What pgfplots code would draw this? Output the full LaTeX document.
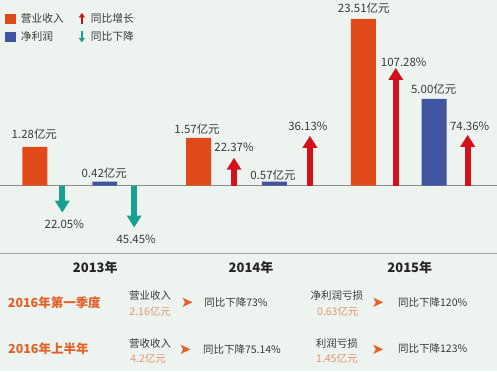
\documentclass[border=0pt]{standalone}
\usepackage{fontspec}
\setmainfont{Noto Sans CJK SC}
\newfontfamily\dejavu{DejaVu Sans}
\usepackage{pgfplots}
\pgfplotsset{compat=1.18}
\usetikzlibrary{arrows.meta}
\definecolor{bgc}{HTML}{EDF3EE}
\definecolor{revc}{HTML}{E04A1A}
\definecolor{profc}{HTML}{3F55A0}
\definecolor{upc}{HTML}{D4101C}
\definecolor{downc}{HTML}{18A090}
\definecolor{linec}{HTML}{8A8E8C}
\definecolor{textc}{HTML}{3A3A3A}
\definecolor{orc}{HTML}{E3602A}
\definecolor{lorc}{HTML}{E3966E}
\begin{document}
\begin{tikzpicture}
\fill[bgc] (0,0) rectangle (497pt,372pt);
\begin{axis}[
  scale only axis, width=497pt, height=372pt,
  xmin=0, xmax=497, ymin=-186, ymax=186,
  hide axis, clip=false,
  legend cell align=left,
  legend style={at={(axis cs:4,175)}, anchor=north west, draw=none, fill=none,
    font=\fontsize{10.75}{12}\selectfont, text=textc, inner sep=0pt,
    row sep=4pt,
    /tikz/every odd column/.append style={column sep=4pt},
    /tikz/every even column/.append style={column sep=13pt}},
  legend columns=2,
]
% legend
\addlegendimage{legend image code/.code={\fill[revc] (0pt,-4.5pt) rectangle (10pt,4.5pt);}}
\addlegendentry{营业收入}
\addlegendimage{legend image code/.code={\draw[upc, line width=2.4pt, -{Triangle[width=6pt,length=4.5pt]}] (3pt,-5.5pt) -- (3pt,5.5pt);}}
\addlegendentry{同比增长}
\addlegendimage{legend image code/.code={\fill[profc] (0pt,-4.5pt) rectangle (10pt,4.5pt);}}
\addlegendentry{净利润}
\addlegendimage{legend image code/.code={\draw[downc, line width=2.4pt, -{Triangle[width=6pt,length=4.5pt]}] (3pt,5.5pt) -- (3pt,-5.5pt);}}
\addlegendentry{同比下降}

% lines
\draw[linec, line width=0.8pt] (axis cs:0,0) -- (axis cs:497,0);
\draw[linec!80, line width=0.8pt] (axis cs:0,-68) -- (axis cs:497,-68);

% bars (visual heights)
\addplot[forget plot, ybar, bar width=25, bar shift=0pt, fill=revc, draw=none]
  coordinates {(34.5,39) (198.5,48) (363.5,167)};
\addplot[forget plot, ybar, bar width=25, bar shift=0pt, fill=profc, draw=none]
  coordinates {(104.5,4) (274.5,4) (434.5,87)};

% arrows
\addplot[forget plot, draw=upc, line width=6pt, -{Triangle[width=14pt,length=12pt]},
  quiver={u=0,v=\thisrow{v}}] table[x=x,y=y] {
x y v
234 0 28
310 0 50
396 0 118
468 0 51
};
\addplot[forget plot, draw=downc, line width=6pt, -{Triangle[width=14pt,length=12pt]},
  quiver={u=0,v=\thisrow{v}}] table[x=x,y=y] {
x y v
62 0 -27
134 0 -42
};

% value labels
\begin{scope}[every node/.style={font=\fontsize{11.5}{12}\selectfont, text=textc, inner sep=0pt}]
\node at (axis cs:34,52) {1.28亿元};
\node at (axis cs:64,-39) {22.05\%};
\node at (axis cs:104,13) {0.42亿元};
\node at (axis cs:136,-54) {45.45\%};
\node at (axis cs:197,57) {1.57亿元};
\node at (axis cs:234,38) {22.37\%};
\node at (axis cs:273,11) {0.57亿元};
\node at (axis cs:308,60) {36.13\%};
\node at (axis cs:364,178) {23.51亿元};
\node at (axis cs:404,124) {107.28\%};
\node at (axis cs:434,97) {5.00亿元};
\node at (axis cs:470,60) {74.36\%};
\end{scope}

% years
\begin{scope}[every node/.style={font=\fontsize{13}{14}\bfseries\selectfont, text=black!85, inner sep=0pt}]
\node at (axis cs:95,-82) {2013年};
\node at (axis cs:251,-82) {2014年};
\node at (axis cs:410,-82) {2015年};
\end{scope}

% bottom table
\begin{scope}[every node/.style={inner sep=0pt}]
\node[font=\fontsize{12.5}{14}\bfseries\selectfont, text=orc] at (axis cs:54,-117) {2016年第一季度};
\node[font=\fontsize{12.5}{14}\bfseries\selectfont, text=orc] at (axis cs:48,-163) {2016年上半年};
\node[font=\fontsize{10.5}{12}\selectfont, text=textc] at (axis cs:150,-110) {营业收入};
\node[font=\fontsize{10.5}{12}\selectfont, text=lorc] at (axis cs:150,-126) {2.16亿元};
\node[font=\fontsize{10.5}{12}\selectfont, text=textc] at (axis cs:150,-158) {营收收入};
\node[font=\fontsize{10.5}{12}\selectfont, text=lorc] at (axis cs:148,-173) {4.2亿元};
\node[font=\fontsize{15}{16}\dejavu, text=orc] at (axis cs:187,-117) {➤};
\node[font=\fontsize{15}{16}\dejavu, text=orc] at (axis cs:185,-164) {➤};
\node[font=\fontsize{10.5}{12}\selectfont, text=textc] at (axis cs:236,-117) {同比下降73\%};
\node[font=\fontsize{10.5}{12}\selectfont, text=textc] at (axis cs:242,-164) {同比下降75.14\%};
\node[font=\fontsize{10.5}{12}\selectfont, text=textc] at (axis cs:337,-110) {净利润亏损};
\node[font=\fontsize{10.5}{12}\selectfont, text=lorc] at (axis cs:338,-126) {0.63亿元};
\node[font=\fontsize{10.5}{12}\selectfont, text=textc] at (axis cs:337,-158) {利润亏损};
\node[font=\fontsize{10.5}{12}\selectfont, text=lorc] at (axis cs:337,-173) {1.45亿元};
\node[font=\fontsize{15}{16}\dejavu, text=orc] at (axis cs:378,-117) {➤};
\node[font=\fontsize{15}{16}\dejavu, text=orc] at (axis cs:378,-164) {➤};
\node[font=\fontsize{10.5}{12}\selectfont, text=textc] at (axis cs:433,-117) {同比下降120\%};
\node[font=\fontsize{10.5}{12}\selectfont, text=textc] at (axis cs:433,-163) {同比下降123\%};
\end{scope}
\end{axis}
\end{tikzpicture}
\end{document}
